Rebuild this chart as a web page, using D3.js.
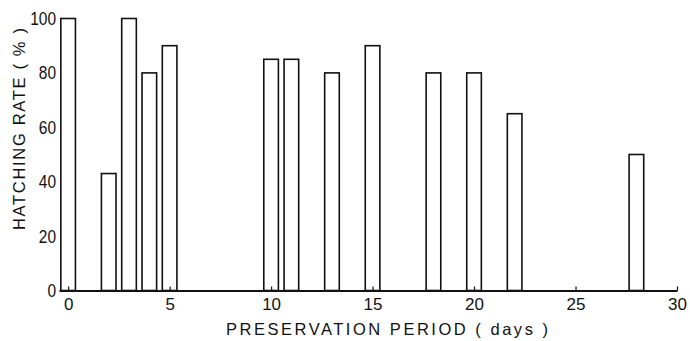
<!DOCTYPE html>
<html>
<head>
<meta charset="utf-8">
<script src="https://cdn.jsdelivr.net/npm/d3@7"></script>
<style>
  html, body { margin: 0; padding: 0; background: #fff; }
  svg { display: block; }
  text { font-family: "Liberation Sans", "DejaVu Sans", sans-serif; fill: #111; }
</style>
</head>
<body>
<svg id="chart" width="690" height="341"></svg>
<script>
// Hatching rate by preservation period
const days = [0, 2, 3, 4, 5, 10, 11, 13, 15, 18, 20, 22, 28];
const rates = [100, 43, 100, 80, 90, 85, 85, 80, 90, 80, 80, 65, 50];
const xTicks = [0, 5, 10, 15, 20, 25, 30];
const yTicks = [0, 20, 40, 60, 80, 100];
const xTitle = "PRESERVATION PERIOD ( days )";
const yTitle = "HATCHING RATE ( % )";

const svg = d3.select("#chart");

const x = d3.scaleLinear().domain([-0.45, 30]).range([59, 677]);
const y = d3.scaleLinear().domain([0, 100]).range([290.5, 18.5]);
const barW = x(0.72) - x(0);

const data = days.map((d, i) => ({ day: d, rate: rates[i] }));

// bars: open rectangles standing on the baseline
svg.append("g")
  .selectAll("rect")
  .data(data)
  .join("rect")
  .attr("x", d => x(d.day) - barW / 2)
  .attr("y", d => y(d.rate))
  .attr("width", barW)
  .attr("height", d => y(0) - y(d.rate))
  .attr("fill", "#fff")
  .attr("stroke", "#111")
  .attr("stroke-width", 1.6);

// x axis with short inward ticks
const xAxis = svg.append("g")
  .attr("transform", `translate(0,${y(0)})`)
  .call(d3.axisBottom(x).tickValues(xTicks).tickSizeInner(-4).tickSizeOuter(0).tickPadding(7));
xAxis.select(".domain").attr("stroke", "#111").attr("stroke-width", 2);
xAxis.selectAll(".tick line").attr("stroke", "#111").attr("stroke-width", 1.2);
xAxis.selectAll(".tick text")
  .style("font-family", "'Liberation Sans', 'DejaVu Sans', sans-serif")
  .style("font-size", "17px")
  .attr("fill", "#111");

// y axis: labels only, slightly condensed digits
const yAxis = svg.append("g")
  .attr("transform", "translate(56,0)")
  .call(d3.axisLeft(y).tickValues(yTicks).tickSize(0).tickPadding(0));
yAxis.select(".domain").remove();
yAxis.selectAll(".tick text")
  .style("font-family", "'Liberation Sans', 'DejaVu Sans', sans-serif")
  .style("font-size", "19px")
  .attr("fill", "#111")
  .attr("textLength", d => String(d).length * 8.6)
  .attr("lengthAdjust", "spacingAndGlyphs");

// axis titles
svg.append("text")
  .attr("x", 387)
  .attr("y", 335)
  .attr("text-anchor", "middle")
  .attr("textLength", 322)
  .attr("lengthAdjust", "spacing")
  .style("font-size", "16.5px")
  .text(xTitle);

svg.append("text")
  .attr("transform", "translate(25,129) rotate(-90)")
  .attr("text-anchor", "middle")
  .attr("textLength", 202)
  .attr("lengthAdjust", "spacing")
  .style("font-size", "16.5px")
  .text(yTitle);
</script>
</body>
</html>
